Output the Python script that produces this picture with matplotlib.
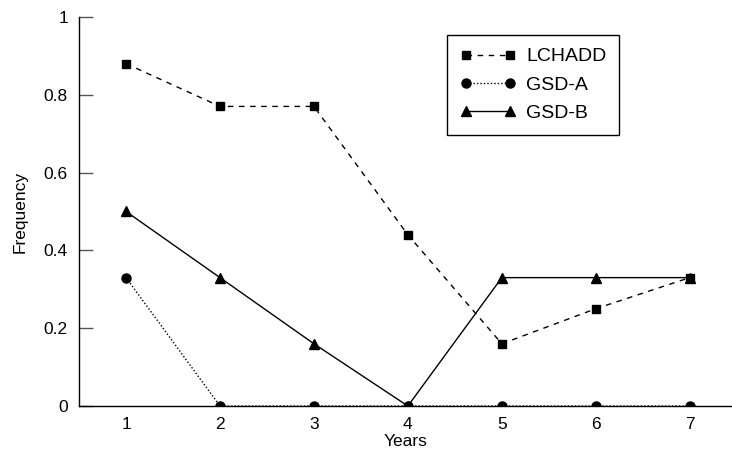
import matplotlib
matplotlib.use("Agg")
from matplotlib import pyplot as plt

years = [1, 2, 3, 4, 5, 6, 7]
lchadd = [0.88, 0.77, 0.77, 0.44, 0.16, 0.25, 0.33]
gsd_a = [0.33, 0, 0, 0, 0, 0, 0]
gsd_b = [0.5, 0.33, 0.16, 0, 0.33, 0.33, 0.33]
y_ticks = [0, 0.2, 0.4, 0.6, 0.8, 1]
y_labels = ['0', '0.2', '0.4', '0.6', '0.8', '1']

plt.rcParams['font.family'] = ['Liberation Sans', 'DejaVu Sans']

fig = plt.figure(figsize=(7.32, 4.58), dpi=100, facecolor='w')
ax = fig.add_axes([0.108, 0.1135, 0.892, 0.8495])

ax.plot(years, lchadd, color='black', lw=1, ls=(0, (4, 4)), marker='s', ms=6, label='LCHADD')
ax.plot(years, gsd_a, color='black', lw=1, ls=(0, (1, 1.5)), marker='o', ms=6.5, label='GSD-A')
ax.plot(years, gsd_b, color='black', lw=1, ls='-', marker='^', ms=7, label='GSD-B')

ax.set_xlim(0.5, 7.45)
ax.set_ylim(0, 1)
ax.set_xticks(years)
ax.set_yticks(y_ticks)
ax.set_yticklabels(y_labels)
ax.tick_params(axis='x', length=0, pad=8, labelsize=12.5)
ax.tick_params(axis='y', direction='in', length=10, width=1, color='#555555', pad=8, labelsize=12.5)

for s in ['top', 'right']:
    ax.spines[s].set_visible(False)
for s in ['left', 'bottom']:
    ax.spines[s].set_linewidth(1)

ax.set_xlabel('Years', fontsize=12.5, labelpad=1)
ax.set_ylabel('Frequency', fontsize=12.5, labelpad=12)

leg = ax.legend(loc='upper left', bbox_to_anchor=(0.549, 0.978), fontsize=14, numpoints=2,
                handlelength=2.9, handletextpad=0.5, borderpad=0.65, labelspacing=0.55,
                fancybox=False, framealpha=1, edgecolor='black')
leg.get_frame().set_linewidth(1)

fig.savefig('out.png', dpi=100)
